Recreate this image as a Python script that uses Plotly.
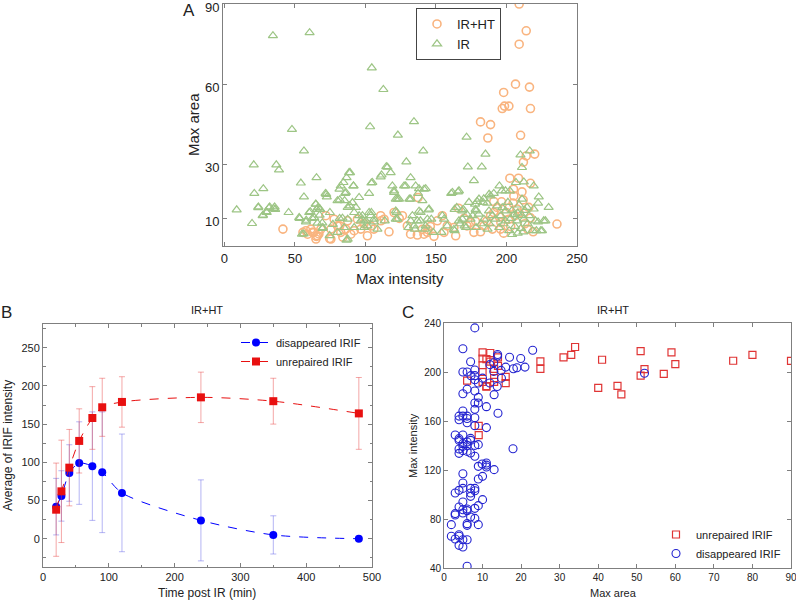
import plotly.graph_objects as go

# ---------------- Panel A data ----------------
irht_pts = [(209,90),(214,80),(209,75),(206.4,60.1),(216.3,59),(198,57),(197,51),(198.6,51.9),(201.7,51.9),(217,51),
 (181.6,46),(188.7,45),(186.8,40),(210,41),(220,34),(212,31),(214,33.3),(202.4,25),(208.5,25),(217,23.1),(211,19.9),
 (205,20.9),(205.2,18.4),(204.7,15.7),(211.8,16.9),(196.5,16.2),(191,16.3),(191,12.2),(215.8,14.1),(207.5,13.5),
 (217,10.2),(218.9,5),(235.8,7.9),(188.7,11),(193.4,14.1),(200,12.2),(201.7,9.7),(196,8.5),(184,7.2),(181.6,5),
 (195.8,6),(174.5,8.5),(166,13.8),(162.7,6.6),(158,7.2),(154.5,11),(148.6,3.3),(144.3,5.8),(140.3,5.9),(137.3,17.8),
 (141.5,4.1),(136.8,3.8),(132,4.1),(129.7,7.2),(126.2,11),(120.3,12.2),(116.7,5),(111,9.1),(113.2,9.7),(103.8,7.2),
 (101.4,3.5),(96.7,6),(92,5.4),(89.6,4.1),(86,6),(82.5,4.8),(80.2,7.2),(77.8,9.7),(75.5,6),(75.5,2.3),(71.9,11),
 (68.4,6),(66,3.5),(64.9,2.3),(62.5,4.8),(61.3,6),(59,4.1),(57.8,5.4),(41.5,6),(87.3,9.1),(94.3,9.7),(110.8,11),
 (143.9,4.8),(151,9.1),(155.7,4.8),(172,7.2),(176.9,4.8),(55.7,4.8),(63.2,4.8),(65.1,3.3),(67,4.2),(74.6,2.5),
 (81.7,7.2),(84,3),(99,8),(106,6),(124,10),(146,7),(164,3.5),(170,10),(178,9),(186,9),(190,6),(198,4.5),(203,7),
 (206,11),(213,8),(209,12),(202,14),(195,10.5),(215,6)]
irht_x = [p[0] for p in irht_pts]
irht_y = [p[1] for p in irht_pts]

ir_pts = [(8.7,13.2),(19.6,8.1),(20.8,30),(21.2,19.3),(24,14),(27.6,21.1),(27.1,11),(30,12.2),(31.6,13.9),(34.9,13.7),
 (36,13.4),(34.4,78.2),(36.8,30),(38.7,28.1),(45.5,12.2),(47.9,43.2),(53,10.3),(54.2,23.2),(56.4,35.2),(56.4,18),
 (55,4.1),(57.8,8.7),(60.4,79.3),(60.1,12.2),(63.7,10.3),(65.3,25.2),(64.9,15.3),(65.6,13.4),(66.5,14.1),(66,8.2),
 (67.9,13.4),(69.6,6.3),(71.7,19.3),(72.6,18),(74.8,12.2),(80.2,16.6),(81.6,20.9),(82.5,22.1),(84.4,23.4),(85.6,19.3),
 (86.6,25.2),(88.4,27.1),(88.9,14.7),(90.8,15.9),(92,12.2),(91.5,22.1),(80.2,4.8),(83.7,10.1),(86.6,1.9),(95.5,11),
 (97.9,9.7),(100.2,9.1),(101.4,7.2),(102.6,19.3),(104.2,23.2),(104.5,66.2),(103.3,44.2),(104.2,12.2),(106.1,9.7),
 (108.5,6),(110.8,25.5),(112.7,58.1),(113.7,9.1),(114.8,29.3),(117.9,27.1),(119.1,22.1),(120.3,19.7),(121.5,17.2),
 (123,41.1),(123.8,17.2),(122.2,12.2),(122.6,9.7),(128.5,22.1),(129,31.1),(131.1,17.2),(132,25.2),(133.3,11),
 (134.4,46.1),(135.6,22.1),(137.3,19.3),(138,12.7),(134.4,7.2),(139,9.1),(141,35.2),(141.5,20.9),(142.7,7.2),
 (144.8,13.2),(146.7,9.7),(155.7,9.7),(160.8,19.3),(163.2,13.4),(165.6,19.9),(162.7,5.9),(169.3,13.4),(170.3,7.2),
 (171.7,40.3),(172.6,29.2),(176.9,24.1),(178.1,13.4),(179.2,16.3),(180.4,11.6),(182.5,29.2),(185.1,34),(183.9,17.3),
 (186.3,15.7),(188.7,18.4),(191,19.3),(195,22.1),(196.7,20.3),(199.3,20.3),(209.9,33.7),(211,29),(216.5,35.2),
 (212.3,23.6),(219.3,22.1),(222.9,18),(222.4,15.7),(229.9,14.1),(227.6,9.1),(222.4,8.7),(225.2,5.4),(221.2,5.4),
 (166.3,20.3),(187.7,19),(202.4,20.3),(211,17.2),(173.4,16),(180.5,17.2),(177.7,15.3),(183.4,16),(193.4,14.7),
 (214.6,14.1),(219.3,13.5),(168.7,9.7),(174.5,9.7),(184,9.7),(192.2,9.7),(199.3,9.1),(207.6,9.1),(212.3,9.7),
 (220.5,9.1),(226.4,9.1),(171.3,6.6),(178.4,6.6),(186.6,6),(194.8,6.6),(201.9,5.4),(210.3,6.3),(218.5,5.4),
 (224.3,5.4),(205.3,11.4),(199.3,12.8),(187.6,12.8),(178.4,12.8),(168.7,12.8),(206.7,23.4),
 (196,11),(198,8),(203,10),(204,13),(206,7),(208,12),(209,15),(211,11),(213,13),(215,8),(216,11),(204,4),(208,4.5),
 (212,5),(197,14),(201,16),(190,11),(188,8),(182,8),(176,11),(172,11.5),(167,8),
 (115.6,29.1),(111.4,26.2),(89.1,27.1),(104.9,23.4),(91.5,22.1),(127.4,22.1),(138,21.1),(142.7,21.1),(120.3,20.3),
 (86.1,19.7),(95.5,17.8),(122.7,17.2),(132.1,17.2),(140.4,16.6),(85.2,16.6),(161.7,19.7),(164.7,14.1),(87.4,14.1),
 (93.2,14.1),(121.5,12.8),(139.2,12.2),(145.1,13.5),(102.6,12.2),(97.9,11),(103.8,11),(87.4,9.7),(96.7,9.1),
 (106.1,8.7),(121.5,9.7),(132.1,9.1),(136.8,9.1),(143.9,9.7),(154.5,11),(158,7.2),(166.3,9.1),(84.9,6.6),(92,6.6),
 (99.1,6.6),(130.4,6.6),(135.1,6),(142.2,6),(148,4.8),(153.9,4.8),(163.2,5.4),(87.4,2.3),
 (72.2,19),(81.7,16.9),(24.1,14.3),(27.4,11.2),(29.7,12.5),(32.1,14.3),(35.6,14.3),(53.4,10),(58,9.3),(60.9,12.5),
 (64.7,15.3),(67.5,13.5),(62.3,10),(67.5,11.2),(69.8,6.6),(56.2,4.2),(76.9,7.8),(74.6,3.6),(81.7,10),(69.4,8.3)]
ir_x = [p[0] for p in ir_pts]
ir_y = [p[1] for p in ir_pts]

# ---------------- Panel B data ----------------
time_min = [20, 28, 40, 55, 75, 90, 120, 240, 350, 480]
disappeared_mean = [42, 56, 86, 99, 95, 87, 60, 24, 5, 0]
disappeared_err = [37, 33, 37, 54, 71, 79, 77, 53, 25, 0]
unrepaired_mean = [38, 62, 93, 128, 158, 172, 179, 185, 180, 164]
unrepaired_err = [61, 67, 50, 42, 41, 38, 33, 33, 30, 47]

# ---------------- Panel C data ----------------
unrep_pts = [(10,216),(12,215.5),(10,211),(11,210.5),(14,212),(12,208.5),(10,205.5),(14,205),(13,202.5),(10,200),
 (13,195),(16,196),(13,192),(16,191),(10,192),(11,188.5),(11,188),(6,193),(9,156),(9,148.5),(25,208.7),(25,202.5),
 (31,212),(33,214),(34,220.4),(40,187),(41,210),(45,188.7),(46,181.8),(51,217),(52,202.3),(51,197),(57,198.4),
 (59,216),(60,206.5),(75,209.2),(80,214),(90,209)]
unrep_x = [p[0] for p in unrep_pts]
unrep_y = [p[1] for p in unrep_pts]

disap_pts = [(8,236),(4.9,219),(6.9,208.4),(13.9,214.3),(13.9,213),(17,212),(19.9,211),(23,217.8),(12.9,207.5),
 (16,204),(18,202.7),(18.9,203.5),(21,204),(14.9,195),(12.9,200.5),(11.9,206),(10,195),(8.9,191),(11.9,191),
 (13,181.5),(14,166.3),(11,171.7),(11,154.6),(17.9,137.4),(52,199),(13.8,188.2),(14.8,201.3),
 (4.9,200),(6,200),(8,201.6),(7,197),(8,197),(8,193.7),(6,186),(8,184.5),(4.9,182.3),(8.9,179.3),(8.9,174.7),
 (8,174.7),(8,169.5),(4.9,168.2),(3.9,164),(4.9,164),(6,164),(3.9,161),(6,162),(6,158.6),(8,162.7),(8,156.2),
 (2.9,148.6),(4.9,148.6),(3.9,145.6),(3.9,144.2),(6.9,145.8),(6.9,144.2),(6,142.9),(4.9,141.5),(6,140.1),
 (4.9,139.3),(8,140.1),(8.9,140.7),(3.9,137.1),(3.9,133.6),(4.9,135.8),(6,135.2),(6.9,133.9),(8,131.2),(11,125.7),
 (11,124),(9.9,124.9),(11,122.4),(8.9,123),(13,120.3),(10,114.8),(8.9,112.7),(4.9,117),(4.9,109.4),(4.9,105),
 (3.9,103.4),(2.9,101.2),(6.9,105),(8,105),(8,103.1),(6.9,101.2),(6.9,98.5),(10,95.8),(4.9,93.9),(8.9,90.9),
 (8,88.7),(3.9,89.8),(4.9,87.6),(6,88.2),(6,86.8),(4.9,84.9),(2.9,84.4),(2.9,83.3),(6.9,81.6),(8,80.5),(1.9,75.4),
 (6,76.2),(6,74.8),(8.9,75.4),(1.9,65.9),(3.9,67.2),(3.9,65.9),(2.9,63.7),(4.9,63.1),(6,63.1),(3.9,58.5),
 (4.9,57.1),(6,41.4)]
disap_x = [p[0] for p in disap_pts]
disap_y = [p[1] for p in disap_pts]

FONT = "Liberation Sans, Arial, sans-serif"
AX = "#7f7f7f"
ORANGE = "#F9B47F"
GREEN = "#9DC585"

fig = go.Figure()

# Panel A
fig.add_trace(go.Scatter(x=irht_x, y=irht_y, mode="markers", name="IR+HT",
    marker=dict(symbol="circle-open", size=8, color=ORANGE, line=dict(width=1.6, color=ORANGE)),
    xaxis="x", yaxis="y", legend="legend"))
fig.add_trace(go.Scatter(x=ir_x, y=ir_y, mode="markers", name="IR",
    marker=dict(symbol="triangle-up-open", size=8, color=GREEN, line=dict(width=1.2, color=GREEN)),
    xaxis="x", yaxis="y", legend="legend"))

# Panel B
fig.add_trace(go.Scatter(x=time_min, y=disappeared_mean, mode="lines+markers", name="disappeared IRIF",
    line=dict(color="#0000FF", width=1, dash="dash", shape="spline", smoothing=0.8),
    marker=dict(symbol="circle", size=8, color="#0000FF"),
    error_y=dict(type="data", array=disappeared_err, color="rgba(90,90,230,0.45)", thickness=1, width=3),
    xaxis="x2", yaxis="y2", legend="legend2"))
fig.add_trace(go.Scatter(x=time_min, y=unrepaired_mean, mode="lines+markers", name="unrepaired IRIF",
    line=dict(color="#E81010", width=1, dash="dash", shape="spline", smoothing=0.8),
    marker=dict(symbol="square", size=8, color="#E81010"),
    error_y=dict(type="data", array=unrepaired_err, color="rgba(230,60,60,0.45)", thickness=1, width=3),
    xaxis="x2", yaxis="y2", legend="legend2"))

# Panel C
fig.add_trace(go.Scatter(x=unrep_x, y=unrep_y, mode="markers", name="unrepaired IRIF",
    marker=dict(symbol="square-open", size=7, color="#E03535", line=dict(width=1.2, color="#E03535")),
    xaxis="x3", yaxis="y3", legend="legend3"))
fig.add_trace(go.Scatter(x=disap_x, y=disap_y, mode="markers", name="disappeared IRIF",
    marker=dict(symbol="circle-open", size=8, color="#2323D0", line=dict(width=1.1, color="#2323D0")),
    xaxis="x3", yaxis="y3", legend="legend3"))

def ax(domain, rng, tickvals, anchor, fs, minor=None, **kw):
    d = dict(domain=domain, range=rng, tickvals=tickvals, anchor=anchor, showgrid=False, zeroline=False,
             showline=True, linecolor=AX, linewidth=1, mirror="ticks", ticks="inside", ticklen=4,
             tickcolor=AX, automargin=False, ticklabeloverflow="allow",
             tickfont=dict(family=FONT, size=fs, color="#222"))
    if minor:
        d["minor"] = dict(tickvals=minor, ticks="inside", ticklen=2.5, tickcolor=AX)
    d.update(kw)
    return d

W, H = 796, 601
def px(x0, x1): return [x0 / W, x1 / W]
def py(y0, y1): return [1 - y1 / H, 1 - y0 / H]

fig.update_layout(
    width=W, height=H, margin=dict(l=0, r=0, t=0, b=0, autoexpand=False),
    paper_bgcolor="white", plot_bgcolor="white",
    font=dict(family=FONT, color="#222"),
    xaxis=ax(px(223, 577), [-1, 250], [0, 50, 100, 150, 200, 250], "y", 13),
    yaxis=ax(py(4, 246), [-0.3, 90], [10, 30, 60, 90], "x", 13, ticklabelshift=3),
    xaxis2=ax(px(43, 372), [0, 500], [0, 100, 200, 300, 400, 500], "y2", 11,
              minor=[50, 150, 250, 350, 450]),
    yaxis2=ax(py(324, 567), [-37, 281], [0, 50, 100, 150, 200, 250], "x2", 11,
              minor=[-25, 25, 75, 125, 175, 225, 275]),
    xaxis3=ax(px(444, 791), [0, 90], list(range(0, 91, 10)), "y3", 10),
    yaxis3=ax(py(323, 568), [40, 240], [40, 80, 120, 160, 200, 240], "x3", 10),
    legend=dict(x=416 / W, y=1 - 8 / H, xanchor="left", yanchor="top", bgcolor="white",
                bordercolor="#444", borderwidth=1, font=dict(family=FONT, size=13, color="#222"),
                itemwidth=30, tracegroupgap=0),
    legend2=dict(x=366 / W, y=1 - 328 / H, xanchor="right", yanchor="top", bgcolor="rgba(0,0,0,0)",
                 font=dict(family=FONT, size=11, color="#222")),
    legend3=dict(x=786 / W, y=1 - 520 / H, xanchor="right", yanchor="top", bgcolor="rgba(0,0,0,0)",
                 font=dict(family=FONT, size=11, color="#222"), itemwidth=30),
    showlegend=True,
)

def note(text, x, y, size, angle=0, xanchor="center"):
    fig.add_annotation(text=text, x=x / W, y=1 - y / H, xref="paper", yref="paper", showarrow=False,
                       font=dict(family=FONT, size=size, color="#222"), textangle=angle,
                       xanchor=xanchor, yanchor="middle")

note("A", 189, 11, 17)
note("B", 6, 312, 17)
note("C", 408, 312, 17)
note("IR+HT", 207, 310, 11)
note("IR+HT", 613, 310, 11)
note("Max intensity", 400, 278, 15)
note("Max area", 193, 125, 15, angle=-90)
note("Time post IR (min)", 207, 593, 12)
note("Average of IRIF intensity", 8, 446, 12, angle=-90)
note("Max area", 613, 593, 11)
note("Max intensity", 413, 446, 11, angle=-90)

fig.write_html("out.html", config={"displayModeBar": False},
               post_script="document.body.style.margin='0px';document.body.style.overflow='hidden';")
